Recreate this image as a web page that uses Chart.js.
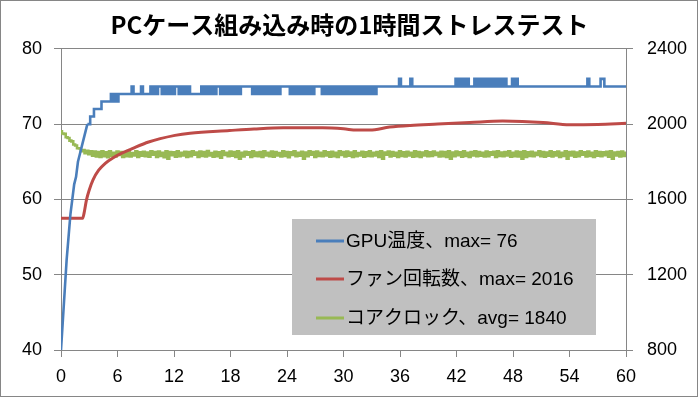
<!DOCTYPE html>
<html><head><meta charset="utf-8">
<script src="https://cdn.jsdelivr.net/npm/chart.js@4"></script>
<style>html,body{margin:0;padding:0;background:#fff}canvas{display:block}</style>
</head><body>
<canvas id="c" width="699" height="397"></canvas>
<script>
const TITLE = 'PCケース組み込み時の1時間ストレステスト';
const SAMPLE_MIN = 0.2; // minutes between samples of gpuTemp / coreClock
const seriesLabels = ['GPU温度、max= 76', 'ファン回転数、max= 2016', 'コアクロック、avg= 1840'];
const seriesColors = ['#4A7EBB', '#BE4B48', '#98B954'];
const xAxis = {min: 0, max: 60, step: 6};
const tempAxis = {min: 40, max: 80, step: 10};
const rpmAxis = {min: 800, max: 2400, step: 400};
const RISE_END = 14; // gpuTemp samples of the fast warm-up, drawn as a straight ramp

const gpuTemp = [
40,44,48,52,55,58,60,62,63,65,
66,67,68,69,70,70,71,71,72,72,
72,72,73,73,73,73,73,74,73,74,
73,74,74,74,74,74,74,74,75,74,
74,74,74,75,74,74,74,74,75,74,
75,74,75,75,74,75,74,75,74,75,
74,75,75,74,75,74,75,74,75,74,
74,74,74,74,74,75,74,75,74,75,
74,75,74,75,75,74,75,74,75,74,
75,74,75,74,75,74,75,75,75,75,
75,75,74,75,74,75,74,75,74,75,
74,75,74,75,74,75,74,75,75,75,
75,75,74,75,74,75,74,75,74,75,
74,75,74,75,74,75,75,75,75,74,
75,74,75,74,75,74,75,74,75,74,
75,74,75,74,75,74,75,74,75,74,
75,74,75,74,75,74,75,74,75,75,
75,75,75,75,75,75,75,75,75,75,
76,75,75,75,75,75,76,75,75,75,
75,75,75,75,75,75,75,75,75,75,
75,75,75,75,75,75,75,75,75,75,
76,75,76,75,76,75,76,75,75,75,
76,75,76,75,76,75,76,75,76,75,
76,75,76,75,76,75,76,75,75,75,
76,75,76,75,75,75,75,75,75,75,
75,75,75,75,75,75,75,75,75,75,
75,75,75,75,75,75,75,75,75,75,
75,75,75,75,75,75,75,75,75,75,
76,75,75,75,75,75,75,76,76,75,
75,75,75,75,75,75,75,75,75,75,75
];

const coreClock = [
1962,1950,1948,1930,1926,1912,1908,1892,1886,1872,
1870,1856,1862,1846,1858,1840,1856,1832,1854,1828,
1852,1826,1855,1830,1850,1824,1856,1832,1848,1828,
1854,1836,1852,1826,1850,1830,1857,1828,1846,1834,
1855,1825,1850,1832,1853,1829,1849,1827,1856,1838,
1851,1826,1854,1831,1848,1824,1855,1816,1852,1835,
1850,1827,1856,1829,1847,1833,1853,1825,1851,1830,
1855,1838,1849,1826,1854,1831,1852,1828,1857,1833,
1846,1827,1853,1830,1850,1822,1855,1836,1848,1829,
1854,1832,1851,1826,1856,1816,1847,1828,1853,1837,
1850,1825,1855,1831,1849,1829,1852,1826,1856,1834,
1848,1830,1854,1827,1851,1833,1846,1828,1855,1831,
1852,1824,1850,1836,1856,1829,1848,1832,1853,1816,
1849,1830,1855,1838,1851,1826,1854,1831,1847,1829,
1856,1833,1850,1827,1853,1830,1848,1825,1855,1836,
1851,1828,1854,1832,1849,1826,1856,1830,1846,1834,
1853,1827,1850,1831,1855,1829,1848,1833,1852,1826,
1856,1816,1849,1837,1854,1828,1851,1832,1847,1825,
1855,1831,1850,1828,1853,1834,1848,1827,1856,1830,
1852,1826,1849,1833,1855,1829,1850,1831,1854,1836,
1847,1828,1853,1830,1851,1825,1856,1816,1849,1829,
1854,1835,1850,1827,1855,1831,1848,1826,1852,1833,
1856,1829,1851,1832,1847,1828,1854,1830,1850,1837,
1853,1826,1855,1831,1849,1829,1852,1834,1856,1827,
1848,1830,1854,1828,1851,1816,1855,1825,1850,1831,
1853,1829,1847,1836,1856,1830,1852,1827,1849,1832,
1855,1828,1850,1834,1854,1826,1848,1831,1856,1816,
1851,1833,1853,1827,1849,1830,1855,1838,1850,1828,
1854,1831,1847,1826,1856,1832,1852,1829,1850,1835,
1853,1827,1855,1816,1849,1833,1851,1828,1854,1831,1848
];

const fanTime = [0, 2.3, 2.5, 2.7, 3.0, 3.4, 4.0, 4.7, 5.5, 6.4, 7.5, 9.3, 12.1, 13.7, 17.9, 20.5, 23.6, 27.8, 30.0, 31.4, 32.8, 34.9, 37.1, 40.0, 43.4, 46.9, 49.0, 51.2, 54.0, 57.0, 60.0];
const fanRpm  = [1500, 1500, 1540, 1596, 1650, 1704, 1755, 1792, 1820, 1844, 1868, 1905, 1940, 1952, 1966, 1974, 1980, 1980, 1975, 1968, 1968, 1984, 1993, 2000, 2008, 2016, 2014, 2008, 1996, 1998, 2004];

const toPoints = (arr) => arr.map((v, i) => ({x: i * SAMPLE_MIN, y: v}));
const gpuPoints = toPoints(gpuTemp);
const fanPoints = fanTime.map((t, i) => ({x: t, y: fanRpm[i]}));

const GRAY = '#868686';
const TICK_FONT = {family: '"Liberation Sans", "Noto Sans CJK JP", sans-serif', size: 18};
const plain = (v) => String(v);

const frame = {
  id: 'frame',
  beforeDraw(chart) {
    const c = chart.ctx;
    c.save(); c.fillStyle = '#fff'; c.fillRect(0, 0, chart.width, chart.height); c.restore();
  },
  afterDraw(chart) {
    const c = chart.ctx;
    c.save(); c.strokeStyle = GRAY; c.lineWidth = 1;
    c.strokeRect(0.5, 0.5, chart.width - 2, chart.height - 1);
    c.restore();
  }
};

const legendBox = {
  id: 'legendBox',
  afterDatasetsDraw(chart) {
    const c = chart.ctx;
    c.save();
    c.fillStyle = '#C0C0C0';
    c.fillRect(292, 219, 304, 116);
    c.font = '19px "Liberation Sans", "Noto Sans CJK JP", sans-serif';
    c.textBaseline = 'middle';
    c.textAlign = 'left';
    const rows = [241, 279, 318];
    chart.data.datasets.filter(ds => ds.inLegend).forEach((ds, i) => {
      c.strokeStyle = ds.borderColor; c.lineWidth = 3;
      c.beginPath(); c.moveTo(316, rows[i]); c.lineTo(344, rows[i]); c.stroke();
      c.fillStyle = '#000';
      c.fillText(ds.label, 346, rows[i] + 1);
    });
    c.restore();
  }
};

new Chart(document.getElementById('c'), {
  type: 'line',
  data: {
    datasets: [
      {label: seriesLabels[0], inLegend: true, data: gpuPoints.slice(RISE_END), yAxisID: 'y', borderColor: seriesColors[0], borderWidth: 2.6, pointRadius: 0, stepped: 'middle'},
      {label: seriesLabels[0], inLegend: false, data: gpuPoints.slice(0, RISE_END + 1), yAxisID: 'y', borderColor: seriesColors[0], borderWidth: 2.6, pointRadius: 0},
      {label: seriesLabels[1], inLegend: true, data: fanPoints, yAxisID: 'y1', borderColor: seriesColors[1], borderWidth: 3, pointRadius: 0, cubicInterpolationMode: 'monotone'},
      {label: seriesLabels[2], inLegend: true, data: toPoints(coreClock), yAxisID: 'y1', borderColor: seriesColors[2], borderWidth: 2.6, pointRadius: 0, stepped: 'middle'}
    ]
  },
  options: {
    responsive: false,
    animation: false,
    devicePixelRatio: 1,
    layout: {padding: 0},
    plugins: {
      legend: {display: false},
      tooltip: {enabled: false},
      title: {
        display: true, text: TITLE, color: '#000',
        font: {family: '"Noto Sans CJK JP", sans-serif', size: 24, weight: 'bold'},
        padding: {top: 10, bottom: 10}
      }
    },
    scales: {
      x: {
        type: 'linear', min: xAxis.min, max: xAxis.max,
        ticks: {stepSize: xAxis.step, color: '#000', font: TICK_FONT, padding: 9, maxRotation: 0, callback: plain},
        grid: {drawOnChartArea: false, color: GRAY, tickLength: 7},
        border: {color: GRAY},
        afterFit(s) { s.height = 47; }
      },
      y: {
        position: 'left', min: tempAxis.min, max: tempAxis.max,
        ticks: {stepSize: tempAxis.step, color: '#000', font: TICK_FONT, padding: 12, callback: plain},
        grid: {color: GRAY, tickLength: 7},
        border: {color: GRAY},
        afterFit(s) { s.width = 61; }
      },
      y1: {
        position: 'right', min: rpmAxis.min, max: rpmAxis.max,
        ticks: {stepSize: rpmAxis.step, color: '#000', font: TICK_FONT, padding: 14, callback: plain},
        grid: {drawOnChartArea: false, color: GRAY, tickLength: 7},
        border: {color: GRAY},
        afterFit(s) { s.width = 73; }
      }
    }
  },
  plugins: [frame, legendBox]
});
</script>
</body></html>
